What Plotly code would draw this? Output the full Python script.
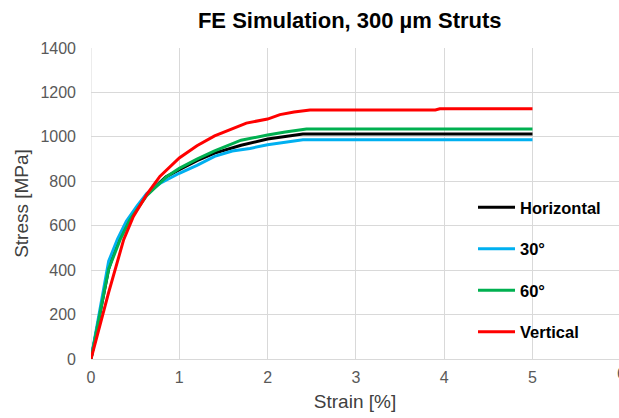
import plotly.graph_objects as go

# ---- data ----
hor_x = [0, 0.2, 0.3, 0.45, 0.63, 0.85, 1.0, 1.2, 1.4, 1.7, 2.0, 2.2, 2.4, 3.0, 4.0, 5.0]
hor_y = [0, 405, 525, 640, 740, 820, 852, 893, 927, 962, 990, 1003, 1013, 1013, 1013, 1013]

d30_x = [0, 0.2, 0.3, 0.4, 0.52, 0.63, 0.78, 1.0, 1.2, 1.4, 1.6, 1.8, 2.0, 2.2, 2.4, 3.0, 4.0, 5.0]
d30_y = [0, 440, 540, 620, 688, 745, 790, 836, 872, 912, 936, 948, 964, 975, 987, 987, 987, 987]

d60_x = [0, 0.2, 0.33, 0.44, 0.63, 0.86, 1.0, 1.2, 1.4, 1.7, 2.0, 2.2, 2.44, 3.0, 4.0, 5.0]
d60_y = [0, 405, 537, 627, 735, 822, 858, 900, 937, 985, 1008, 1022, 1035, 1035, 1035, 1035]

ver_x = [0, 0.2, 0.37, 0.48, 0.63, 0.78, 1.0, 1.2, 1.4, 1.6, 1.76, 2.0, 2.14, 2.3, 2.48, 3.0, 3.9, 3.95, 4.5, 5.0]
ver_y = [0, 300, 537, 642, 740, 822, 905, 960, 1004, 1035, 1062, 1080, 1100, 1112, 1121, 1121, 1121, 1126, 1126, 1126]

names = ["Horizontal", "30°", "60°", "Vertical"]
colors = ["#000000", "#00B0F0", "#00B050", "#FF0000"]
series = [(hor_x, hor_y), (d30_x, d30_y), (d60_x, d60_y), (ver_x, ver_y)]

x_ticks = [0, 1, 2, 3, 4, 5]
y_ticks = [0, 200, 400, 600, 800, 1000, 1200, 1400]

FONT = "Arial, 'Liberation Sans', sans-serif"

fig = go.Figure()
for i, ((xs, ys), n, c) in enumerate(zip(series, names, colors)):
    fig.add_trace(go.Scatter(x=xs, y=ys, mode="lines", name=n,
                             line=dict(color=c, width=3),
                             legendgroup=f"g{i}"))

fig.update_layout(
    width=619, height=418,
    margin=dict(l=91, r=0, t=48, b=59),
    paper_bgcolor="white", plot_bgcolor="white",
    title=dict(text="<b>FE Simulation, 300 µm Struts</b>", x=0.565, xanchor="center",
               y=0.952, yanchor="middle",
               font=dict(family=FONT, size=22, color="#000000")),
    font=dict(family=FONT),
    showlegend=True,
    legend=dict(x=0.7235, y=0.543, xanchor="left", yanchor="top",
                bgcolor="rgba(0,0,0,0)", tracegroupgap=17, itemwidth=37,
                font=dict(family=FONT, size=16.5, color="#000000", weight="bold")),
    xaxis=dict(range=[0, 5.98], tickvals=x_ticks, ticktext=[str(v) for v in x_ticks],
               showgrid=True, gridcolor="#D9D9D9", gridwidth=1,
               zeroline=False, showline=True, linecolor="#D9D9D9", linewidth=1,
               ticks="", ticklabelstandoff=4,
               tickfont=dict(family=FONT, size=16, color="#595959"),
               title=dict(text="Strain [%]", standoff=9,
                          font=dict(family=FONT, size=19, color="#404040"))),
    yaxis=dict(range=[0, 1400], tickvals=y_ticks, ticktext=[str(v) for v in y_ticks],
               showgrid=True, gridcolor="#D9D9D9", gridwidth=1,
               zeroline=False, showline=False,
               ticks="", ticklabelstandoff=14,
               tickfont=dict(family=FONT, size=16, color="#595959"),
               title=dict(text="Stress [MPa]", standoff=6,
                          font=dict(family=FONT, size=19, color="#404040"))),
)

# tick label "6" sits at the right edge, partly outside the visible page (as in the reference)
fig.add_annotation(x=1.0038, y=0, xref="paper", yref="paper", text="6", showarrow=False,
                   xanchor="center", yanchor="top", yshift=-4,
                   font=dict(family=FONT, size=16, color="#595959"))
# vertical grid line at x=0
fig.add_shape(type="line", x0=0, x1=0, y0=0, y1=1400, xref="x", yref="y",
              line=dict(color="#D9D9D9", width=1), layer="below")

fig.write_html("out.html")
